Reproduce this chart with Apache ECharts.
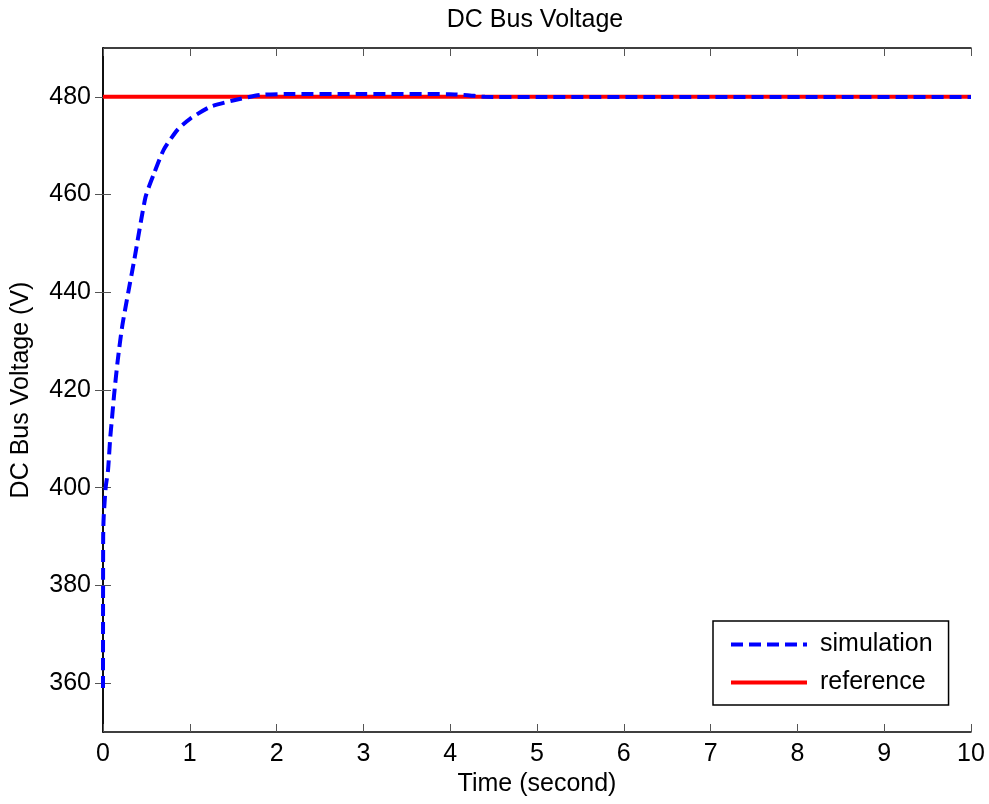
<!DOCTYPE html>
<html>
<head>
<meta charset="utf-8">
<title>DC Bus Voltage</title>
<script src="https://cdn.jsdelivr.net/npm/echarts@6/dist/echarts.min.js"></script>
<style>
    html, body { margin: 0; padding: 0; background: #fff; }
    #chart { width: 989px; height: 804px; }
</style>
</head>
<body>
<div id="chart"></div>
<script>
// simulation curve
var simTime = [0, 0.002, 0.008, 0.031, 0.058, 0.084, 0.10, 0.13, 0.17, 0.22, 0.29, 0.36, 0.49, 0.59, 0.70, 0.86, 1.01, 1.24, 1.51, 1.82, 2.2, 3.0, 3.99, 4.2, 4.4, 5.0, 10];
var simVolt = [359, 390, 394, 400.1, 403.6, 410.4, 413.5, 419.4, 426.1, 432.9, 439.9, 446.6, 459.5, 464.4, 469.2, 473.3, 475.6, 478.0, 479.3, 480.4, 480.6, 480.6, 480.55, 480.35, 480.0, 479.95, 479.95];
// reference level
var refTime = [0, 10];
var refVolt = [480, 480];
// tick labels
var xTicks = [0, 1, 2, 3, 4, 5, 6, 7, 8, 9, 10];
var yTicks = [360, 380, 400, 420, 440, 460, 480];

var font = 'Liberation Sans, Arial, sans-serif';
var fontSize = 25;

function pairs(xs, ys) {
    var out = [];
    for (var i = 0; i < xs.length; i++) {
        out.push([xs[i], ys[i]]);
    }
    return out;
}

var myChart = echarts.init(document.getElementById('chart'));

// common look of the box axes
var lineStyle = { color: '#000', width: 1.5 };
var tickStyle = { color: '#555', width: 1 };

var option = {
    animation: false,
    backgroundColor: '#fff',
    title: {
        text: 'DC Bus Voltage',
        left: 530,
        textAlign: 'center',
        top: 3,
        textStyle: { fontFamily: font, fontSize: fontSize, fontWeight: 'normal', color: '#000' }
    },
    grid: { left: 103, right: 18, top: 48, bottom: 72 },
    legend: {
        orient: 'vertical',
        left: 713,
        top: 621,
        padding: [11, 16, 10, 16],
        itemGap: 13,
        itemWidth: 76,
        itemHeight: 26,
        backgroundColor: '#fff',
        borderColor: '#000',
        borderWidth: 1.5,
        borderRadius: 0,
        itemStyle: { opacity: 0 },
        lineStyle: { width: 4 },
        textStyle: { fontFamily: font, fontSize: fontSize, color: '#000', padding: [0, 0, 0, 8] },
        data: ['simulation', 'reference']
    },
    xAxis: [
        {
            type: 'value',
            min: 0,
            max: 10,
            interval: 1,
            name: 'Time (second)',
            nameLocation: 'middle',
            nameGap: 35,
            nameTextStyle: { fontFamily: font, fontSize: fontSize, color: '#000' },
            axisLine: { show: true, lineStyle: lineStyle },
            axisTick: { show: true, inside: true, length: 8, lineStyle: tickStyle },
            axisLabel: { margin: 10, fontFamily: font, fontSize: fontSize, color: '#000', customValues: xTicks },
            splitLine: { show: false }
        },
        {
            type: 'value',
            position: 'top',
            min: 0,
            max: 10,
            interval: 1,
            axisLine: { show: true, lineStyle: lineStyle },
            axisTick: { show: true, inside: true, length: 8, lineStyle: tickStyle },
            axisLabel: { show: false },
            splitLine: { show: false }
        }
    ],
    yAxis: [
        {
            type: 'value',
            min: 350,
            max: 490,
            name: 'DC Bus Voltage (V)',
            nameLocation: 'middle',
            nameGap: 69,
            nameTextStyle: { fontFamily: font, fontSize: fontSize, color: '#000' },
            axisLine: { show: true, lineStyle: lineStyle },
            axisTick: { show: true, inside: true, length: 8, lineStyle: tickStyle, customValues: yTicks },
            axisLabel: { margin: 12, fontFamily: font, fontSize: fontSize, color: '#000', customValues: yTicks },
            splitLine: { show: false }
        },
        {
            type: 'value',
            position: 'right',
            min: 350,
            max: 490,
            axisLine: { show: true, lineStyle: lineStyle },
            axisTick: { show: true, inside: true, length: 8, lineStyle: tickStyle, customValues: yTicks },
            axisLabel: { show: false, customValues: yTicks },
            splitLine: { show: false }
        }
    ],
    series: [
        {
            name: 'simulation',
            type: 'line',
            xAxisIndex: 0,
            yAxisIndex: 0,
            showSymbol: false,
            symbol: 'none',
            smooth: 0.2,
            z: 3,
            lineStyle: { color: '#0000ff', width: 4, type: [12, 6] },
            itemStyle: { color: '#0000ff' },
            data: pairs(simTime, simVolt)
        },
        {
            name: 'reference',
            type: 'line',
            xAxisIndex: 0,
            yAxisIndex: 0,
            showSymbol: false,
            symbol: 'none',
            z: 2,
            lineStyle: { color: '#ff0000', width: 4 },
            itemStyle: { color: '#ff0000' },
            data: pairs(refTime, refVolt)
        }
    ]
};

myChart.setOption(option);
</script>
</body>
</html>
